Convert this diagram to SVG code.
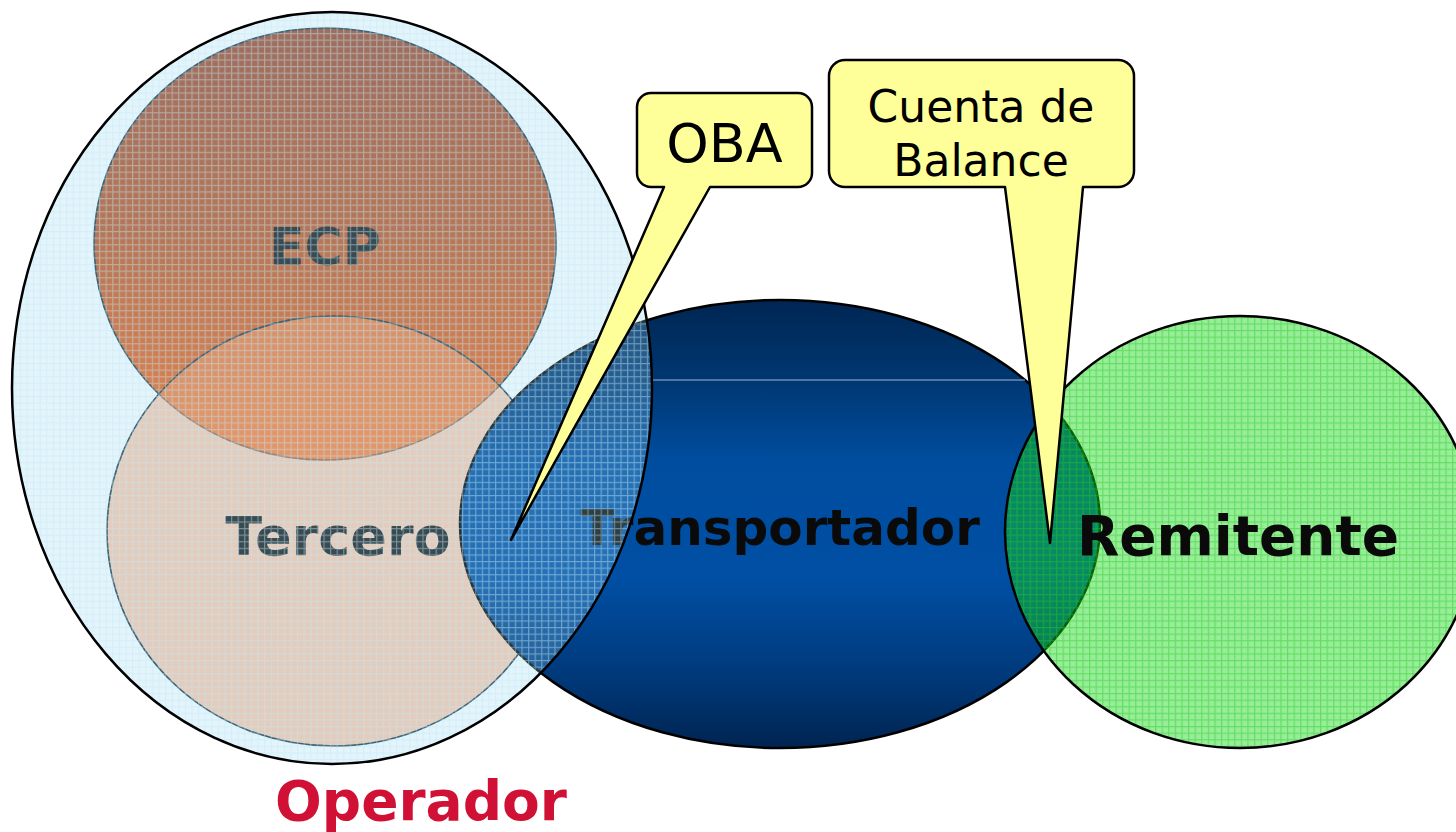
<svg xmlns="http://www.w3.org/2000/svg" width="1456" height="832" viewBox="0 0 1456 832">
<defs>
<style>
.lbl{font-family:"DejaVu Sans",Verdana,sans-serif;font-weight:bold;text-anchor:middle}
.call{font-family:"DejaVu Sans",Verdana,sans-serif;text-anchor:middle;fill:#000}
.bubble{fill:#ffff99;stroke:#000;stroke-width:2.5;stroke-linejoin:round}
.inner{stroke:#1e3a48;stroke-width:1.6}
.outer{fill:none;stroke:#000;stroke-width:2.5}
</style>
<linearGradient id="gEcp" gradientUnits="userSpaceOnUse" x1="0" y1="28" x2="0" y2="460">
<stop offset="0" stop-color="#a24a2c"/>
<stop offset="0.5" stop-color="#c45824"/>
<stop offset="1" stop-color="#ff6a18"/>
</linearGradient>
<linearGradient id="gTrans" gradientUnits="userSpaceOnUse" x1="0" y1="300" x2="0" y2="748">
<stop offset="0" stop-color="#002653"/>
<stop offset="0.17" stop-color="#003670"/>
<stop offset="0.36" stop-color="#004d9f"/>
<stop offset="0.62" stop-color="#004fa4"/>
<stop offset="0.84" stop-color="#00397a"/>
<stop offset="1" stop-color="#002451"/>
</linearGradient>
<pattern id="gridB" width="6.6" height="6.6" patternUnits="userSpaceOnUse">
<path d="M0 0.6H6.6M0.6 0V6.6" stroke="#c2e8f7" stroke-width="1.2" fill="none"/>
</pattern>
<pattern id="gridG" width="6.6" height="6.6" patternUnits="userSpaceOnUse">
<path d="M0 0.6H6.6M0.6 0V6.6" stroke="#22cc22" stroke-width="1.2" fill="none"/>
</pattern>
</defs>
<rect width="1456" height="832" fill="#fff"/>

<g id="node-ecp">
<ellipse cx="325" cy="244" rx="231" ry="216" fill="url(#gEcp)" class="inner"/>
<text class="lbl" x="325" y="265" font-size="52" fill="#1a1a1a">ECP</text>
</g>

<g id="node-tercero">
<ellipse cx="333" cy="531" rx="226" ry="215" fill="#ff985c" fill-opacity="0.52" class="inner"/>
<text class="lbl" x="338" y="555" font-size="54" fill="#1a1a1a">Tercero</text>
</g>

<g id="node-transportador">
<ellipse cx="780" cy="524" rx="320" ry="224" fill="url(#gTrans)" stroke="#000" stroke-width="2.5"/>
<line x1="653" y1="380" x2="1025" y2="380" stroke="#9fb3cf" stroke-width="1"/>
<text class="lbl" x="780" y="545" font-size="50" fill="#0a0a0a">Transportador</text>
</g>

<g id="node-operador">
<ellipse cx="332" cy="388" rx="320" ry="376" fill="#94d4ee" fill-opacity="0.26"/>
<ellipse cx="332" cy="388" rx="320" ry="376" fill="url(#gridB)" opacity="0.45"/>
<ellipse cx="332" cy="388" rx="320" ry="376" class="outer"/>
<text class="lbl" x="421" y="820" font-size="55" fill="#d11035">Operador</text>
</g>

<g id="node-remitente">
<ellipse cx="1240" cy="532" rx="235" ry="216" fill="#14d614" fill-opacity="0.44"/>
<ellipse cx="1240" cy="532" rx="235" ry="216" fill="url(#gridG)" opacity="0.45"/>
<ellipse cx="1240" cy="532" rx="235" ry="216" class="outer"/>
<text class="lbl" x="1238" y="555" font-size="55" fill="#0a0a0a">Remitente</text>
</g>

<g id="connectors"></g>

<g id="callout-oba">
<path class="bubble" d="M651 93H798A14 14 0 0 1 812 107V173A14 14 0 0 1 798 187H710L511 540L664 187H651A14 14 0 0 1 637 173V107A14 14 0 0 1 651 93Z"/>
<text class="call" x="724.5" y="162" font-size="54">OBA</text>
</g>

<g id="callout-cuenta">
<path class="bubble" d="M845 60H1118A16 16 0 0 1 1134 76V171A16 16 0 0 1 1118 187H1083L1050 543L1005 187H845A16 16 0 0 1 829 171V76A16 16 0 0 1 845 60Z"/>
<text class="call" x="981" y="122" font-size="44">Cuenta de</text>
<text class="call" x="981" y="176" font-size="44">Balance</text>
</g>
</svg>
